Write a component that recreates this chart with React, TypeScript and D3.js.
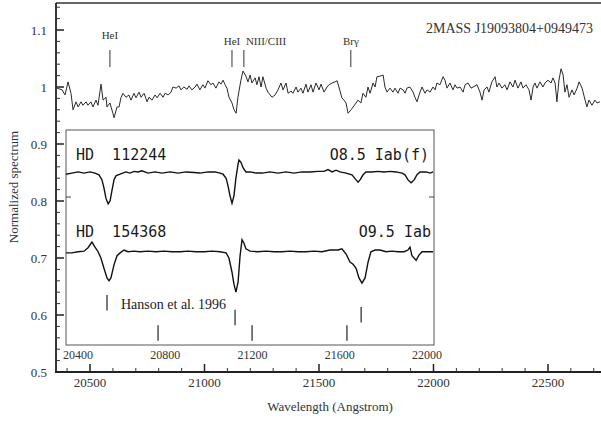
import React from "react";
import * as d3 from "d3";

// Main spectrum: [wavelength (Angstrom), normalized flux]
const mainSpectrum: [number, number][] = [
  [20356,0.998],[20378,0.995],[20391,0.986],[20404,1.009],[20417,0.989],[20426,0.960],[20439,0.974],[20448,0.965],
  [20461,0.974],[20469,0.968],[20483,0.974],[20491,0.968],[20504,0.974],[20513,0.965],[20526,0.977],[20535,0.968],
  [20548,1.005],[20557,0.977],[20570,0.982],[20574,0.965],[20587,0.972],[20600,0.954],[20605,0.946],[20618,0.965],
  [20627,0.965],[20635,0.981],[20644,0.989],[20657,0.982],[20670,0.986],[20679,0.977],[20692,0.989],[20701,0.981],
  [20714,0.991],[20723,0.982],[20736,0.989],[20749,0.974],[20758,0.982],[20771,0.977],[20784,0.986],[20793,0.981],
  [20806,0.989],[20819,0.982],[20828,0.989],[20841,0.986],[20854,0.991],[20862,1.000],[20876,0.998],[20889,1.002],
  [20897,0.995],[20910,1.000],[20924,0.996],[20932,1.002],[20945,0.995],[20959,1.000],[20967,1.005],[20980,0.995],
  [20993,1.004],[21002,0.998],[21015,1.011],[21028,1.004],[21037,1.007],[21050,0.998],[21063,1.009],[21072,1.005],
  [21081,1.012],[21090,1.004],[21098,0.998],[21107,0.982],[21120,0.972],[21129,0.960],[21138,0.954],[21146,0.982],
  [21159,1.012],[21168,1.028],[21181,1.019],[21190,1.009],[21199,1.021],[21207,1.007],[21221,1.016],[21229,1.004],
  [21238,1.018],[21247,1.000],[21255,1.018],[21269,0.998],[21277,0.991],[21295,0.982],[21308,0.986],[21321,0.995],
  [21334,1.007],[21343,0.995],[21356,1.007],[21365,0.989],[21378,0.993],[21386,0.989],[21400,1.000],[21408,0.991],
  [21421,0.998],[21430,0.989],[21443,1.005],[21452,0.991],[21465,1.004],[21474,0.991],[21487,1.007],[21500,0.995],
  [21509,1.005],[21522,0.991],[21535,1.000],[21544,1.004],[21557,1.007],[21570,1.009],[21579,1.011],[21587,1.000],
  [21600,0.981],[21609,0.977],[21618,0.972],[21627,0.954],[21640,0.960],[21649,0.965],[21662,0.972],[21670,0.977],
  [21683,0.972],[21692,0.989],[21705,0.982],[21714,1.000],[21723,0.989],[21736,1.007],[21745,1.000],[21753,1.018],
  [21766,1.019],[21780,1.021],[21788,1.000],[21797,0.991],[21810,0.998],[21823,0.991],[21832,0.998],[21845,0.989],
  [21854,0.998],[21867,0.995],[21876,0.989],[21884,0.998],[21897,1.000],[21911,0.991],[21919,0.982],[21928,0.974],
  [21941,0.991],[21950,1.000],[21963,0.989],[21972,0.995],[21985,0.991],[21998,1.000],[22007,0.995],[22015,1.007],
  [22028,1.004],[22042,1.018],[22050,1.012],[22059,0.998],[22072,1.007],[22085,0.995],[22094,1.004],[22103,0.998],
  [22116,1.000],[22129,0.991],[22138,1.004],[22151,1.007],[22164,0.998],[22173,1.000],[22190,1.004],[22203,0.991],
  [22212,0.977],[22221,0.995],[22234,1.000],[22242,0.991],[22255,1.009],[22269,1.018],[22277,1.000],[22286,1.007],
  [22299,0.998],[22312,1.004],[22321,0.995],[22334,1.009],[22347,1.000],[22356,1.012],[22369,0.998],[22382,1.009],
  [22391,0.998],[22404,1.004],[22417,0.995],[22426,0.977],[22435,1.000],[22443,1.007],[22452,0.998],[22465,1.009],
  [22478,1.000],[22487,1.007],[22500,1.012],[22513,1.007],[22522,1.016],[22531,1.007],[22539,0.974],[22548,1.012],
  [22557,1.032],[22566,1.021],[22574,0.991],[22583,1.004],[22592,0.982],[22605,0.995],[22614,0.986],[22627,0.998],
  [22636,1.009],[22649,0.998],[22662,0.977],[22670,0.965],[22679,0.977],[22692,0.968],[22705,0.977],[22714,0.972],
  [22727,0.974],
];

// Inset comparison spectra (inset wavelength scale, offset flux)
const hd112244: [number, number][] = [
  [20345,0.847],[20372,0.849],[20400,0.851],[20428,0.849],[20455,0.851],[20478,0.849],[20496,0.846],[20510,0.837],
  [20519,0.823],[20528,0.805],[20538,0.795],[20547,0.800],[20556,0.819],[20565,0.837],[20574,0.844],[20593,0.847],
  [20620,0.851],[20638,0.849],[20657,0.852],[20675,0.851],[20693,0.853],[20721,0.849],[20753,0.851],[20785,0.849],
  [20822,0.851],[20859,0.849],[20895,0.851],[20932,0.850],[20959,0.849],[20996,0.851],[21028,0.851],[21051,0.849],
  [21065,0.847],[21079,0.840],[21088,0.826],[21097,0.809],[21106,0.796],[21115,0.809],[21124,0.840],[21134,0.865],
  [21138,0.872],[21147,0.868],[21157,0.858],[21170,0.851],[21189,0.851],[21216,0.849],[21244,0.849],[21280,0.851],
  [21317,0.849],[21354,0.851],[21390,0.849],[21427,0.851],[21464,0.851],[21500,0.852],[21528,0.852],[21546,0.855],
  [21565,0.851],[21583,0.854],[21601,0.851],[21629,0.849],[21656,0.846],[21675,0.837],[21684,0.833],[21693,0.837],
  [21707,0.846],[21720,0.851],[21748,0.851],[21776,0.852],[21803,0.851],[21831,0.852],[21858,0.851],[21886,0.849],
  [21899,0.846],[21913,0.837],[21927,0.832],[21941,0.837],[21954,0.846],[21968,0.851],[21996,0.851],[22014,0.849],
  [22028,0.851],
];

const hd154368: [number, number][] = [
  [20345,0.709],[20372,0.709],[20400,0.711],[20428,0.712],[20446,0.718],[20464,0.728],[20478,0.719],[20492,0.711],
  [20505,0.700],[20519,0.682],[20533,0.665],[20542,0.660],[20551,0.665],[20565,0.688],[20579,0.704],[20593,0.709],
  [20611,0.714],[20629,0.711],[20657,0.712],[20684,0.711],[20721,0.712],[20758,0.711],[20794,0.712],[20831,0.711],
  [20868,0.711],[20904,0.712],[20941,0.711],[20978,0.711],[21014,0.712],[21051,0.711],[21079,0.709],[21092,0.700],
  [21106,0.675],[21115,0.654],[21124,0.640],[21134,0.658],[21143,0.704],[21152,0.732],[21161,0.726],[21170,0.716],
  [21189,0.712],[21225,0.711],[21262,0.712],[21299,0.711],[21335,0.711],[21372,0.712],[21409,0.711],[21445,0.711],
  [21482,0.712],[21519,0.711],[21555,0.714],[21592,0.714],[21610,0.716],[21629,0.707],[21647,0.693],[21661,0.689],
  [21675,0.682],[21688,0.665],[21702,0.656],[21716,0.665],[21730,0.693],[21743,0.711],[21762,0.714],[21785,0.714],
  [21812,0.711],[21840,0.712],[21867,0.711],[21895,0.711],[21913,0.714],[21922,0.719],[21931,0.704],[21950,0.696],
  [21963,0.705],[21977,0.711],[22005,0.711],[22028,0.711],
];

// Line identifications on the main spectrum
const lineNames = ["HeI", "HeI", "NIII/CIII", "Br\u03b3"];
const lineWaves = [20587, 21120, 21172, 21639];
const lineLabelFlux = [1.084, 1.074, 1.074, 1.074];
const lineAnchor = ["middle", "middle", "start", "middle"];

// Hanson et al. 1996 line marks (inset scale)
const hansonWaves = [20533, 20767, 21120, 21198, 21633, 21698];
const hansonTop = [0.635, 0.582, 0.609, 0.582, 0.582, 0.614];

// Tick values
const xMajor = [20500, 21000, 21500, 22000, 22500];
const yMajor = [0.5, 0.6, 0.7, 0.8, 0.9, 1.0, 1.1];
const yLabels = ["0.5", "0.6", "0.7", "0.8", "0.9", "1", "1.1"];
const insetTicks = [20400, 20800, 21200, 21600, 22000];

const W = 601;
const H = 421;
const serif = '"Liberation Serif", "Times New Roman", serif';
const mono = '"DejaVu Sans Mono", "Liberation Mono", monospace';

export default function App() {
  const x = d3.scaleLinear().domain([20351.5, 22749]).range([56, 605]);
  const y = d3.scaleLinear().domain([0.5, 1.1]).range([372, 30]);
  const xi = d3.scaleLinear().domain([20400, 22000]).range([78, 427]);
  const yi = d3.scaleLinear().domain([0.5, 1.1]).range([372, 30]);

  const line = d3.line<[number, number]>().x((d) => x(d[0])).y((d) => y(d[1]));
  const lineI = d3.line<[number, number]>().x((d) => xi(d[0])).y((d) => yi(d[1]));

  const xMinor = d3.range(20400, 22800, 100).filter((v) => v % 500 !== 0);
  const yMinor = d3.range(0, 33).map((i) => 0.5 + i * 0.02).filter((v) => Math.abs(v * 10 - Math.round(v * 10)) > 1e-6);

  const inL = 66, inR = 434, inT = 130, inB = 345;
  const pre = { whiteSpace: "pre" as const };

  return (
    <svg width={W} height={H} style={{ position: "absolute", left: 0, top: 0, background: "#fff" }}>
      <rect x={0} y={0} width={W} height={H} fill="#fff" />
      {/* frame */}
      <line x1={56} y1={3} x2={W} y2={3} stroke="#333" strokeWidth={1.6} />
      <line x1={56} y1={3} x2={56} y2={372} stroke="#222" strokeWidth={1.8} />
      <line x1={55} y1={372} x2={W} y2={372} stroke="#222" strokeWidth={1.8} />

      {/* x ticks */}
      {xMajor.map((v) => (
        <g key={"xm" + v}>
          <line x1={x(v)} x2={x(v)} y1={372} y2={364} stroke="#222" strokeWidth={1.5} />
          <text x={x(v)} y={387} textAnchor="middle" fontFamily={serif} fontSize={13} fill="#333">{v}</text>
        </g>
      ))}
      {xMinor.map((v) => (
        <line key={"xn" + v} x1={x(v)} x2={x(v)} y1={372} y2={368} stroke="#333" strokeWidth={1} />
      ))}

      {/* y ticks */}
      {yMajor.map((v, i) => (
        <g key={"ym" + v}>
          <line x1={56} x2={64} y1={y(v)} y2={y(v)} stroke="#222" strokeWidth={1.5} />
          <text x={47} y={y(v) + 4.5} textAnchor="end" fontFamily={serif} fontSize={13} fill="#333">{yLabels[i]}</text>
        </g>
      ))}
      {yMinor.map((v) => (
        <line key={"yn" + v} x1={56} x2={60} y1={y(v)} y2={y(v)} stroke="#333" strokeWidth={1} />
      ))}

      {/* axis titles */}
      <text x={330} y={411} textAnchor="middle" fontFamily={serif} fontSize={13} fill="#333">Wavelength (Angstrom)</text>
      <text transform={`translate(18,187) rotate(-90)`} textAnchor="middle" fontFamily={serif} fontSize={13} fill="#333">Normalized spectrum</text>

      {/* main spectrum */}
      <path d={line(mainSpectrum) || ""} fill="none" stroke="#2a2a2a" strokeWidth={1} />

      {/* line ids */}
      {lineWaves.map((w, i) => (
        <g key={"lid" + i}>
          <line x1={x(w)} x2={x(w)} y1={y(1.065)} y2={y(1.035)} stroke="#333" strokeWidth={1} />
          <text x={lineAnchor[i] === "start" ? x(w) + 2 : x(w)} y={y(lineLabelFlux[i])} textAnchor={lineAnchor[i] as any}
            fontFamily={serif} fontSize={11} fill="#333">{lineNames[i]}</text>
        </g>
      ))}
      <text x={593} y={33} textAnchor="end" fontFamily={serif} fontSize={14} fill="#333">2MASS J19093804+0949473</text>

      {/* inset */}
      <rect x={inL} y={inT} width={inR - inL} height={inB - inT} fill="#fff" stroke="#555" strokeWidth={1} />
      <line x1={inL} x2={inL + 5} y1={197} y2={197} stroke="#444" strokeWidth={1} />
      <line x1={inR - 5} x2={inR} y1={197} y2={197} stroke="#444" strokeWidth={1} />
      <path d={lineI(hd112244) || ""} fill="none" stroke="#111" strokeWidth={1.4} />
      <path d={lineI(hd154368) || ""} fill="none" stroke="#111" strokeWidth={1.4} />
      <text x={76} y={160} fontFamily={mono} fontSize={15} fill="#1a1a1a" style={pre}>{"HD  112244"}</text>
      <text x={429} y={160} textAnchor="end" fontFamily={mono} fontSize={15} fill="#1a1a1a" style={pre}>{"O8.5 Iab(f)"}</text>
      <text x={76} y={237} fontFamily={mono} fontSize={15} fill="#1a1a1a" style={pre}>{"HD  154368"}</text>
      <text x={431} y={237} textAnchor="end" fontFamily={mono} fontSize={15} fill="#1a1a1a" style={pre}>{"O9.5 Iab"}</text>
      {hansonWaves.map((w, i) => (
        <line key={"hs" + i} x1={xi(w)} x2={xi(w)} y1={yi(hansonTop[i])} y2={yi(hansonTop[i] - 0.027)} stroke="#222" strokeWidth={1.2} />
      ))}
      <text x={121} y={309} fontFamily={serif} fontSize={14} fill="#222">Hanson et al. 1996</text>
      {insetTicks.map((v) => (
        <text key={"it" + v} x={xi(v)} y={359} textAnchor="middle" fontFamily={serif} fontSize={12} fill="#333">{v}</text>
      ))}
    </svg>
  );
}
